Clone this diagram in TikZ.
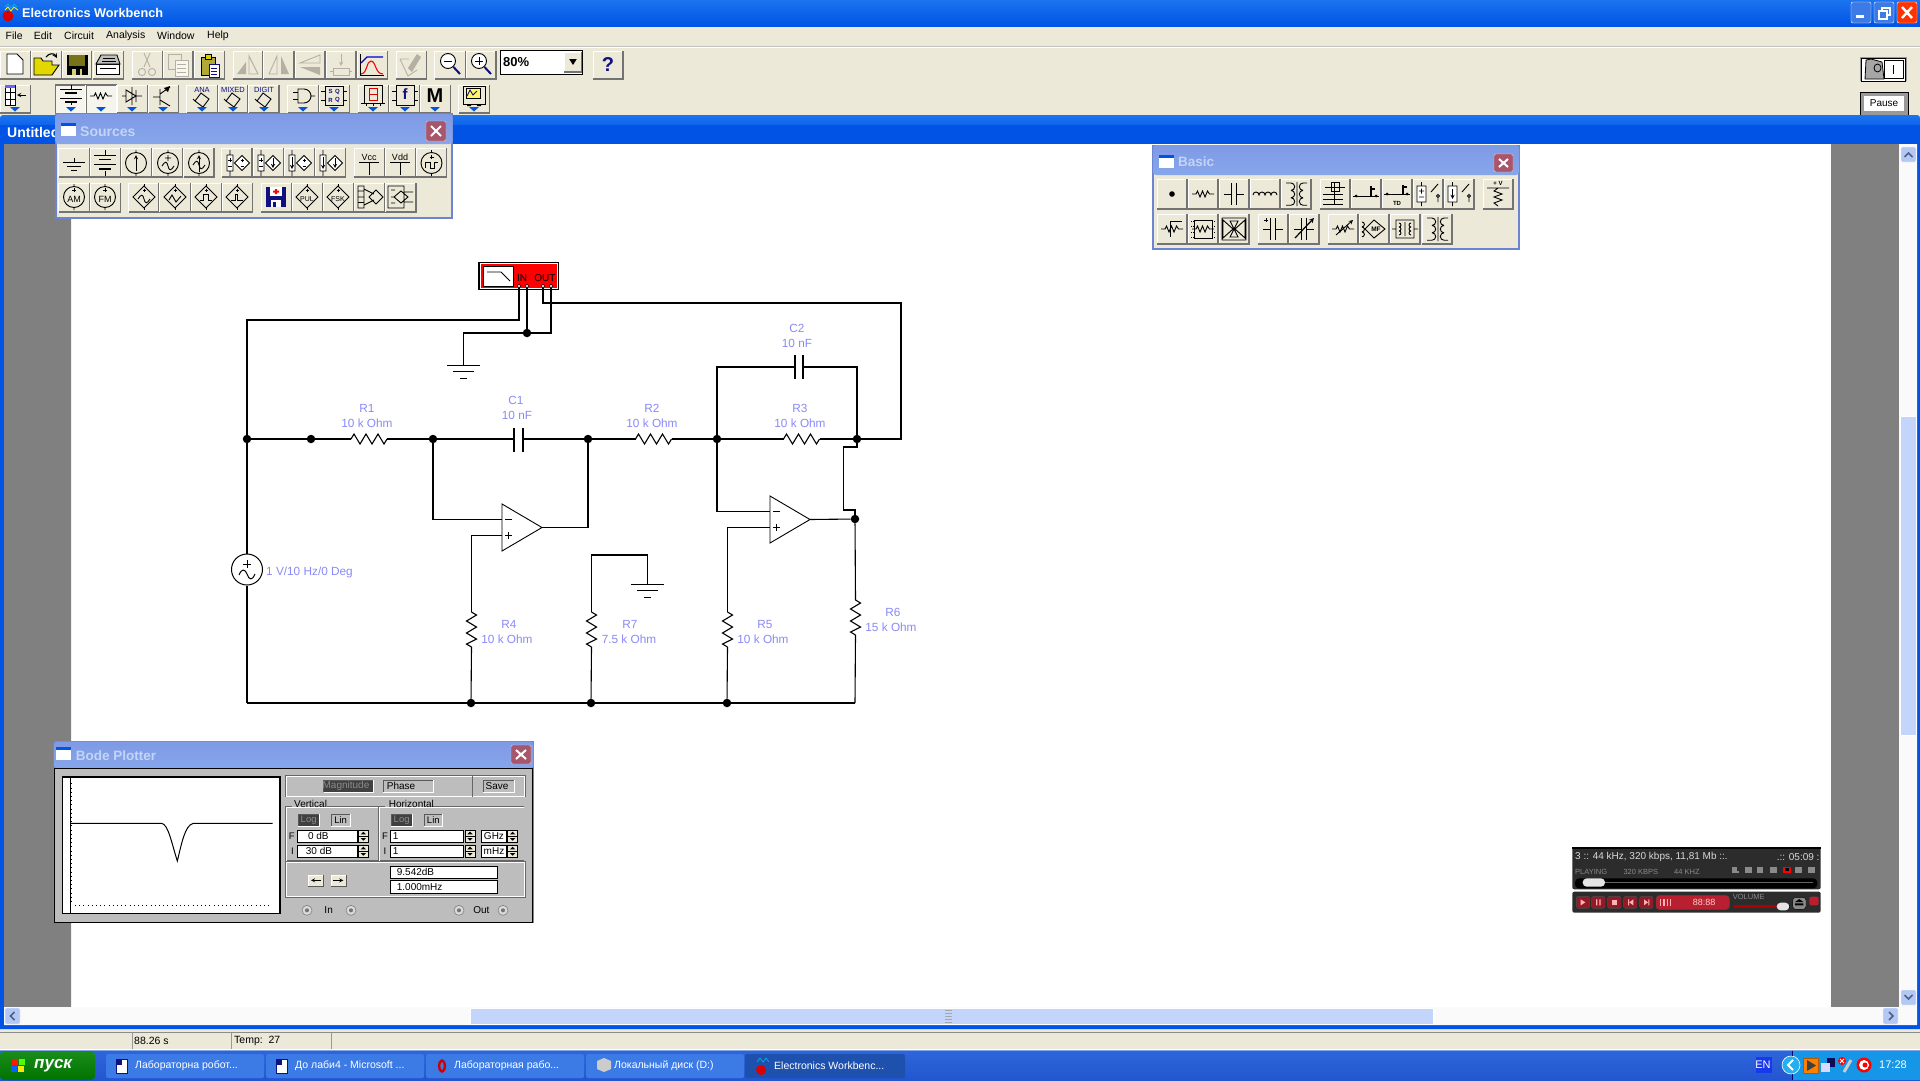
\documentclass[tikz,border=0pt]{standalone}
\usepackage{fontspec}
\setmainfont{Liberation Sans}
\definecolor{beige}{HTML}{ECE9D8}
\definecolor{xpa}{HTML}{1C74F0}
\definecolor{xpb}{HTML}{0053E4}
\definecolor{xpc}{HTML}{0A3FC8}
\definecolor{paleA}{HTML}{7F9AE6}
\definecolor{paleB}{HTML}{86A6EA}
\definecolor{paleE}{HTML}{6D84D2}
\definecolor{palet}{HTML}{C4D4F6}
\definecolor{closer}{HTML}{A8566C}
\definecolor{evblue}{HTML}{8A8AF6}
\definecolor{sbthumb}{HTML}{C3D5FA}
\definecolor{sbbtn}{HTML}{B4C8F6}
\definecolor{sbico}{HTML}{4D6185}
\definecolor{panel}{HTML}{BDBDBD}
\definecolor{tbA}{HTML}{2E66DA}
\definecolor{tbB}{HTML}{2256D0}
\definecolor{tbtn}{HTML}{3C7BE6}
\definecolor{tbact}{HTML}{1E50AE}
\definecolor{tray}{HTML}{1596E6}
\definecolor{wdark}{HTML}{2C2C2C}
\definecolor{wred}{HTML}{B82030}
\definecolor{wgrey}{HTML}{8A8A8A}
\definecolor{dis}{HTML}{B4B1A4}
\definecolor{navy}{HTML}{101080}
\tikzset{
  wire/.style={draw=black,line width=1.1pt},
  junction/.style={circle,fill=black,inner sep=0pt,minimum size=8.5pt},
  pinhole/.style={circle,draw=black,fill=white,line width=.5pt,inner sep=0pt,minimum size=3.4pt},
  lab/.style={text=evblue,inner sep=0pt,font=\fontsize{11.8}{12}\selectfont},
  icon/.style={line width=.9pt},
  thickbar/.style={line width=1.8pt},
}
\newcount\uicnt
\newcommand\uitext[6]{\global\advance\uicnt by 1
  \node[inner sep=0pt,anchor=#3,text=#5,font=\fontsize{#4}{#4}\selectfont] (ui\the\uicnt) at (#1,#2) {#6};}
\newcommand\uibtn[4]{%
  \fill[beige] (#1,#3) rectangle (#2,#4);
  \draw[white,line width=1pt] (#1,#4)--(#1,#3)--(#2,#3);
  \draw[black!55,line width=1.4pt] (#1,#4)--(#2,#4)--(#2,#3);}
\newcommand\uibtnin[4]{%
  \fill[white!55!beige] (#1,#3) rectangle (#2,#4);
  \draw[black!55,line width=1.2pt] (#1,#4)--(#1,#3)--(#2,#3);
  \draw[white,line width=1pt] (#1,#4)--(#2,#4)--(#2,#3);}
\newcommand\uiicon[3]{\begin{scope}[shift={(#1,#2)},icon]#3\end{scope}}
\newcommand\uisunken[5]{%
  \fill[#5] (#1,#3) rectangle (#2,#4);
  \draw[black!65,line width=.9pt] (#1,#4)--(#1,#3)--(#2,#3);
  \draw[white,line width=.9pt] (#1,#4)--(#2,#4)--(#2,#3);}
\newcommand\uiraised[5]{%
  \fill[#5] (#1,#3) rectangle (#2,#4);
  \draw[white,line width=.9pt] (#1,#4)--(#1,#3)--(#2,#3);
  \draw[black!65,line width=.9pt] (#1,#4)--(#2,#4)--(#2,#3);}
\newcommand\uiclose[4]{%
  \fill[closer,rounded corners=1.5pt,draw=white!70!closer] (#1,#3) rectangle (#2,#4);
  \draw[white,line width=2pt] ({#1+5},{#3+5})--({#2-5},{#4-5}) ({#1+5},{#4-5})--({#2-5},{#3+5});}
\newcommand\uiwinico[2]{%
  \fill[white] (#1,#2) rectangle ++(15,13);
  \fill[xpb] (#1,#2) rectangle ++(15,3);}
\newcommand\hres[3]{%
  \coordinate (#1-a) at (#2,#3); \coordinate (#1-b) at ({#2+36},#3);
  \draw[wire] (#1-a) -- ++(3,-5) -- ++(6,10) -- ++(6,-10) -- ++(6,10) -- ++(6,-10) -- ++(6,10) -- (#1-b);}
\newcommand\vres[3]{%
  \coordinate (#1-a) at (#2,#3); \coordinate (#1-b) at (#2,{#3+35});
  \draw[wire] (#1-a) -- ++(5,3) -- ++(-10,6) -- ++(10,6) -- ++(-10,6) -- ++(10,6) -- ++(-10,5) -- (#1-b);}
\newcommand\opampsym[3]{%
  \coordinate (#1-m) at (#2,{#3+15.5}); \coordinate (#1-p) at (#2,{#3+31.5}); \coordinate (#1-o) at ({#2+40},{#3+23.5});
  \draw[wire,line width=.9pt] (#2,#3) -- (#1-o) -- (#2,{#3+47}) -- cycle;
  \draw[line width=.9pt] ({#2+3},{#3+15.5}) -- ++(7,0) ({#2+3},{#3+31.5}) -- ++(7,0) ({#2+6.5},{#3+28}) -- ++(0,7);}
\newcommand\gndsym[3]{%
  \coordinate (#1) at (#2,#3);
  \draw[line width=1pt] ({#2-16.5},#3) -- ++(33,0) ({#2-10.5},{#3+6.5}) -- ++(21,0) ({#2-3.5},{#3+13}) -- ++(7,0);}
\newcommand\dropmark[2]{\fill[blue!60!cyan!85!black] ({#1-5},#2) -- ++(10,0) -- ++(-5,4.5) -- cycle;}
\newcommand\iccirc{\draw (0,0) circle (10.5) (0,-13)--(0,-10.5) (0,10.5)--(0,13);}
\newcommand\iczig{\draw (-11,0)--(-7,0)--(-5.5,-3)--(-3,3)--(-.5,-3)--(2,3)--(4.5,-3)--(6.5,0)--(11,0);}
\newcommand\icbatt{\draw (0,-13)--(0,-8) (-11,-8)--(11,-8) (-11,1)--(11,1) (0,8)--(0,13); \draw[thickbar] (-6,-3.5)--(6,-3.5) (-6,6)--(6,6);}
\newcommand\iccap{\draw (-10,0)--(-2.5,0) (2.5,0)--(10,0); \draw[thickbar] (-2.5,-11)--(-2.5,11) (2.5,-11)--(2.5,11);}
\newcommand\iccoil{\draw (-12,1) arc (180:360:3) arc (180:360:3) arc (180:360:3) arc (180:360:3);}
\newcommand\ictrans{\draw (-5,-11)--(-10,-11) (-5,-11) arc (-90:90:3.7) (-5,-3.6) arc (-90:90:3.7) (-5,3.8) arc (-90:90:3.7) (-5,11.2)--(-10,11.2) (7,-11)--(11,-11) (7,-11) arc (-90:-270:3.7) (7,-3.6) arc (-90:-270:3.7) (7,3.8) arc (-90:-270:3.7) (7,11.2)--(11,11.2) (1,-12)--(1,12);}
\begin{document}
\begin{tikzpicture}[x=1pt,y=-1pt]
\useasboundingbox (0,0) rectangle (1920,1080);
% base
\fill[beige] (0,0) rectangle (1920,1080);
\shade[top color=xpa,bottom color=xpb] (0,0) rectangle (1920,26);
\uitext{22}{13}{west}{12.7}{white}{\bfseries Electronics Workbench}
\fill[red!85!black] (8,16) circle (5.5);
\draw[cyan,line width=.8pt] (5,7) -- (8,4) -- (11,8) -- (14,4) -- (17,7);
\draw[yellow,line width=.8pt] (5,10) -- (8,7) -- (11,11) -- (14,7) -- (18,10);
% window buttons
\foreach \a/\b/\c in {1851/1871/tbtn,1874/1894/tbtn}{\fill[\c,draw=white,rounded corners=2pt] (\a,2) rectangle (\b,23);}
\fill[red!60!orange,draw=white,rounded corners=2pt] (1897,2) rectangle (1917,23);
\fill[white] (1856,15) rectangle (1864,18);
\draw[white,line width=1.2pt] (1879,11) rectangle (1887,19) (1882,11)--(1882,8)--(1890,8)--(1890,15)--(1887,15);
\draw[white,line width=2.4pt] (1902,7)--(1912,18) (1902,18)--(1912,7);
% menu
\foreach \x/\t in {5.5/File,33.7/Edit,64/Circuit,106/Analysis,157/Window,207/Help}{\uitext{\x}{35.5}{west}{10.5}{black}{\t}}
\draw[black!25,line width=1pt] (0,46)--(1920,46);
\draw[white,line width=1pt] (0,47.2)--(1920,47.2);
% toolbar row 1
\begin{scope}[x=.421pt]
\foreach \a/\b in {0/72,74/146,148/218,221/293,314/386,388/458,461/533,554/625,627/698,701/772,775/846,848/920,941/1013,1033/1105,1107/1178,1409/1480}{\uibtn{\a}{\b}{51}{79}}
\foreach \a/\b in {0/72,279/350,353/424,444/516,518/589,591/663,684/756,758/830,851/923,925/997,998/1070,1090/1163}{\uibtn{\a}{\b}{85}{113}}
\foreach \a/\b in {132/204,206/277}{\uibtnin{\a}{\b}{85}{113}}
\fill[white,draw=black,line width=.9pt] (1188,50) rectangle (1384,74);
\uibtn{1340}{1381}{52}{72}
\fill[black] (1352,59) -- (1370,59) -- (1361,65) -- cycle;
\end{scope}
\uitext{503}{62}{west}{13}{black}{\bfseries 80\%}
% row1 icons
\uiicon{15}{64}{\draw[fill=white] (-8,-10)--(2,-10)--(8,-4)--(8,10)--(-8,10)--cycle;}
\uiicon{46}{65}{\fill[yellow!75!olive,draw=black] (-12,-7)--(-5,-7)--(-3,-4)--(6,-4)--(6,0)--(13,0)--(6,10)--(-12,10)--cycle; \draw[black,line width=1.1pt,->,>=stealth] (0,-8)..controls(3,-12)and(8,-12)..(11,-7);}
\uiicon{77}{65}{\fill[black] (-10.5,-10) rectangle (10.5,10); \fill[olive!80!black] (-8,-10) rectangle (8,1); \fill[white!60!olive] (-5,4) rectangle (5,10);\fill[black] (-1,4) rectangle (3,10);}
\uiicon{108}{65}{\fill[white,draw=black] (-12,-1) rectangle (11,9); \fill[black!25,draw=black] (-7,-10)--(9,-10)--(12,-1)--(-12,-1)--cycle; \draw (-5,-7)--(7,-7) (-6,-4)--(8,-4) (-8,3)--(8,3);}
\uiicon{147}{65}{\draw[dis] (-3,-12)--(3,2) (3,-12)--(-3,2) (-5,7) circle (3.6) (5,7) circle (3.6);}
\uiicon{178}{65}{\draw[dis,fill=beige] (-10,-11) rectangle (3,4); \draw[dis,fill=white!60!beige] (-3,-5) rectangle (10,11); \draw[dis] (-1,-1)--(8,-1) (-1,3)--(8,3) (-1,7)--(8,7);}
\uiicon{209}{65}{\fill[olive!70,draw=black] (-8,-8) rectangle (6,10); \fill[yellow!70!olive,draw=black] (-4,-11) rectangle (2,-6); \fill[white,draw=navy] (0,-1) rectangle (10,12); \draw[navy] (2,3)--(8,3) (2,6)--(8,6) (2,9)--(8,9);}
\uiicon{248}{65}{\fill[dis] (-11,9)--(-2,9)--(-2,-3)--cycle; \draw[dis] (1,9)--(10,9)--(1,-9)--cycle;}
\uiicon{279}{65}{\draw[dis] (-2,9)--(-2,-9)--(-10,9)--cycle; \fill[dis] (2,9)--(2,-9)--(10,9)--cycle;}
\uiicon{310}{65}{\draw[dis] (-10,-2)--(10,-10)--(10,-2)--cycle; \fill[dis] (-10,2)--(10,2)--(10,10)--cycle;}
\uiicon{341}{65}{\draw[dis] (-8,3) rectangle (8,10) (-11,6.5)--(-8,6.5) (8,6.5)--(11,6.5); \draw[dis,->,>=stealth] (0,-11)--(0,1);}
\uiicon{372}{65}{\draw[black] (-12,-11)--(-12,10)--(12,10); \draw[blue!80!black,line width=1.1pt] (-11,-2)--(-5,-8)--(11,-8); \draw[red,line width=1.1pt] (-11,9) ..controls (-4,8) and (-6,-4) .. (-1,-4) ..controls (4,-4) and (3,9) .. (11,9);}
\uiicon{411}{65}{\fill[dis] (-3,3)--(6,-11)--(10,-8)--(1,7)--cycle; \draw[dis] (-11,-6)--(-2,-6) (-11,-6)--(-3,11)--(6,5);}
\uiicon{450}{65}{\draw[fill=white] (-2,-4) circle (7.5); \draw (-6,-4)--(2,-4); \draw[navy,line width=2pt] (3.5,2)--(10,9);}
\uiicon{481}{65}{\draw[fill=white] (-2,-4) circle (7.5); \draw (-6,-4)--(2,-4) (-2,-8)--(-2,0); \draw[navy,line width=2pt] (3.5,2)--(10,9);}
\uitext{608}{65}{center}{20}{navy}{\bfseries ?}
% row 2 icons
\uiicon{15}{96}{\draw[fill=white] (-10,-11) rectangle (0,9); \fill[blue!60] (-10,-11) rectangle (0,-8); \draw (-10,-4)--(0,-4) (-10,3)--(0,3) (-5,-8)--(-5,9); \draw[->,>=stealth] (11,-1)--(2,-1);}
\dropmark{15}{107}
\uiicon{71}{96}{\draw (0,-11)--(0,-7) (-11,-7)--(11,-7) (-11,2)--(11,2) (0,6)--(0,9); \draw[thickbar] (-6,-3)--(6,-3) (-6,6)--(6,6);}
\uiicon{101}{96}{\iczig}
\uiicon{132}{96}{\draw (0,-9)--(0,9) (-10,0)--(-6,0) (4,0)--(10,0) (-6,-6)--(-6,6)--(4,0)--cycle (4,-6)--(4,6);}
\uiicon{163}{96}{\draw (-10,1)--(-3,1) (-3,-7)--(-3,9) (-3,-2)--(7,-9) (-3,4)--(7,10); \fill (7,-10)--(1,-8)--(5,-4)--cycle;}
\foreach \x/\t in {202/ANA,233/MIXED,264/DIGIT}{\uitext{\x}{89.5}{center}{7.5}{navy}{\t}
  \uiicon{\x}{100}{\draw (-1,-7)--(7,-1)--(1,7)--(-7,1)--cycle (-7,1)--(-9,-1);}}
\uiicon{303}{96}{\draw (-5,-7)--(1,-7) arc (-90:90:7)--(-5,7)--cycle (-10,-3.5)--(-5,-3.5) (-10,3.5)--(-5,3.5) (8,0)--(12,0);}
\uiicon{334}{96}{\draw[black] (-9,-10) rectangle (9,9) (-13,-5)--(-9,-5) (-13,4)--(-9,4) (9,-5)--(13,-5) (9,4)--(13,4);}
\uitext{330.5}{91.5}{center}{6}{navy}{\bfseries S}\uitext{337.5}{91.5}{center}{6}{navy}{\bfseries Q}\uitext{330.5}{100}{center}{6}{navy}{\bfseries R}\uitext{337.5}{100}{center}{6}{navy}{\bfseries Q}
\uiicon{373}{94}{\fill[beige,draw=black] (-9,-9) rectangle (9,9); \draw[red!85!black,line width=1pt] (-4,-6) rectangle (4,0) (-4,0) rectangle (4,6);\draw (-12,9)--(12,9) (-7,9)--(-7,12) (0,9)--(0,12) (7,9)--(7,12);}
\uiicon{405}{96}{\draw (-9,-11) rectangle (9,9) (-13,-5)--(-9,-5) (-13,4)--(-9,4) (9,-5)--(13,-5) (9,4)--(13,4);}
\uitext{405}{94}{center}{15}{navy}{\bfseries f}
\uitext{435}{96}{center}{20}{black}{\bfseries M}
\uiicon{474}{96}{\fill[beige,draw=black] (-11,-10) rectangle (11,8); \fill[yellow!60,draw=black] (-8,-8) rectangle (6,2); \draw[navy] (-7,0)--(-4,-6)--(-1,-1)--(3,-5); \fill[black] (-7,8) rectangle (-3,10) (3,8) rectangle (7,10);}
\foreach \x in {71,101,132,163,202,233,264,303,334,373,405,435,474}{\dropmark{\x}{107}}
% right side toolbar
\fill[black!40] (1860,57) rectangle (1907,81);
\fill[white,draw=black,line width=1pt] (1861,58) rectangle (1905,81);
\fill[black!35,draw=black,line width=.8pt] (1871,59) -- (1882,62) -- (1884,79) -- (1865,79) -- (1866,60) -- cycle;
\draw[line width=.8pt] (1877.5,68) ellipse (3.5 and 4);
\draw[line width=1pt] (1893,65)--(1893,74) (1884,60) rectangle (1903,78);
\fill[black!40,draw=black,line width=1pt] (1860,92) rectangle (1908,115);
\fill[white] (1864,96) rectangle (1904,111);
\uitext{1884}{103}{center}{10}{black}{Pause}
% document window
\shade[top color=xpa,bottom color=xpb,rounded corners=3pt] (0,115) rectangle (1920,135);
\fill[xpb] (0,125) rectangle (1920,144);
\fill[xpb] (0,144) rectangle (4,1029) (1917,144) rectangle (1920,1029) (0,1025) rectangle (1920,1029);
\uitext{7}{132}{west}{14}{white}{\bfseries Untitled}
\fill[white] (71,144) rectangle (1831,1007);
\fill[black!50] (4,144) rectangle (71,1007) (1831,144) rectangle (1899,1007);
% scrollbars
\fill[black!2] (1899,144) rectangle (1917,1025) (4,1007) rectangle (1917,1025);
\fill[sbthumb,draw=white] (1900,416) rectangle (1916,735);
\fill[sbthumb,draw=white] (470,1008) rectangle (1433,1024);
\foreach \a/\b in {1901/147,1901/990}{\fill[sbbtn,draw=white,rounded corners=1pt] (\a,\b) rectangle ++(15,15);}
\foreach \a in {5,1883}{\fill[sbbtn,draw=white,rounded corners=1pt] (\a,1008) rectangle ++(15,16);}
\draw[sbico,line width=1.6pt] (1904.5,157)--(1908.5,153)--(1912.5,157) (1904.5,995)--(1908.5,999)--(1912.5,995) (14.5,1012)--(10.5,1016)--(14.5,1020) (1889,1012)--(1893,1016)--(1889,1020);
\foreach \y in {1010,1013,1016,1019,1022}{\draw[black!35,line width=.6pt] (945,\y)--(952,\y);}
% Sources window
\fill[beige,draw=paleE,line width=1.5pt] (56,114) rectangle (452,218);
\shade[top color=paleA,bottom color=paleB,rounded corners=3pt] (55.5,114) rectangle (452.5,144);
\uiwinico{61}{123}
\uitext{80}{132}{west}{14}{palet}{\bfseries Sources}
\uiclose{426}{446}{121}{141}
\begin{scope}[x=.421pt]
\foreach \a/\b in {140/212,214/286,288/360,362/434,436/508,527/599,601/673,675/747,749/821,841/913,915/987,989/1061}{\uibtn{\a}{\b}{148}{177}}
\foreach \a/\b in {140/212,214/286,306/378,380/452,454/526,528/600,620/692,694/766,768/840,842/914,916/988}{\uibtn{\a}{\b}{183}{212}}
\end{scope}
\uiicon{74}{163}{\draw (-11,-1)--(11,-1) (-7,3)--(7,3) (-3,7)--(3,7) (0,-5)--(0,-1);}
\uiicon{105}{163}{\icbatt}
\uiicon{136}{163}{\iccirc \draw[->,>=stealth] (0,8)--(0,-8);}
\uiicon{168}{163}{\iccirc \draw (-3,-5)--(3,-5) (0,-8)--(0,-2) (-6,3)..controls(-3,-2)and(-1,-2)..(0,3)..controls(1,8)and(3,8)..(6,3);}
\uiicon{199}{163}{\iccirc \draw[->,>=stealth] (0,9)--(0,-8); \draw (-6,2)..controls(-3,-3)and(-1,-3)..(0,2)..controls(1,7)and(3,7)..(6,2);}
\foreach \x/\c in {237/1,268/2,299/3,330/4}{
  \uiicon{\x}{163}{\draw[fill=white] (-10,-8) rectangle (-4,8) (-7,-13)--(-7,-8) (-7,8)--(-7,13) (5,-7.5)--(12.5,0)--(5,7.5)--(-2.5,0)--cycle;}}
\uiicon{237}{163}{\draw (-9,-3)--(-5,-3) (-7,-5)--(-7,-1) (-9,3)--(-5,3) (3.5,-3)--(6.5,-3) (5,-4.5)--(5,-1.5) (3.5,3)--(6.5,3);}
\uiicon{268}{163}{\draw (-9,-3)--(-5,-3) (-7,-5)--(-7,-1) (-9,3)--(-5,3); \draw[->,>=stealth] (5,-5)--(5,5);}
\uiicon{299}{163}{\draw[->,>=stealth] (-7,-6)--(-7,6); \draw (3.5,-3)--(6.5,-3) (5,-4.5)--(5,-1.5) (3.5,3)--(6.5,3);}
\uiicon{330}{163}{\draw[->,>=stealth] (-7,-6)--(-7,6); \draw[->,>=stealth] (5,-5)--(5,5);}
\foreach \x/\t in {369/Vcc,400/Vdd}{\uitext{\x}{157}{center}{9}{black}{\t}\uiicon{\x}{163}{\draw (-10,-1)--(10,-1) (0,-1)--(0,12);}}
\uiicon{431.5}{163}{\iccirc \draw (-6,5)--(-6,-1)--(-1,-1)--(-1,5)--(3,5)--(3,-1)--(6,-1)  (-2,-6)--(2,-6) (0,-8)--(0,-4);}
\foreach \x/\t in {74/AM,105/FM}{\uiicon{\x}{197}{\iccirc \draw (-2,-7)--(2,-7) (0,-9)--(0,-5);}\uitext{\x}{199}{center}{9}{black}{\t}}
\foreach \x in {144,175,206,237,307,338}{\uiicon{\x}{197}{\draw (0,-13)--(0,13); \fill[beige,draw=black] (0,-11)--(11,0)--(0,11)--(-11,0)--cycle; \draw (-1.5,-7)--(1.5,-7) (0,-8.5)--(0,-5.5);}}
\uiicon{144}{197}{\draw (-6,2)..controls(-3,-3)and(-1,-3)..(0,2)..controls(1,7)and(3,7)..(6,2);}
\uiicon{175}{197}{\draw (-6,3)--(-3,-2)--(1,5)--(6,-1);}
\uiicon{206}{197}{\draw (-6,3)--(-3,3)--(-3,-3)--(2,-3)--(2,3)--(6,3);}
\uiicon{237}{197}{\draw (-6,3)--(-2,3)--(-2,-3)--(0,-3)--(0,3)--(6,3);}
\uitext{307}{199}{center}{7}{black}{PUL}\uitext{338}{199}{center}{7}{black}{FSK}
\uiicon{276}{197}{\fill[navy] (-10,-10) rectangle (10,10); \fill[white] (-6,-10) rectangle (6,-1); \fill[red] (-1,-8) rectangle (1,-3) (-3,-6.5) rectangle (3,-4.5); \fill[white] (-5,3) rectangle (5,10); \fill[navy] (-3,5) rectangle (0,10);}
\uiicon{370}{197}{\draw (-12,-11) rectangle (-6,11) (-12,-6)--(-6,-6) (-12,0)--(-6,0) (-12,5.5)--(-6,5.5) (-6,-8)--(4,-3) (-6,8)--(4,3) (6,-7)--(13,0)--(6,7)--(-1,0)--cycle;}
\uiicon{400}{197}{\draw (-12,-11) rectangle (4,11) (4,-5)--(13,-5) (4,5)--(13,5) (-9,-7)--(-5,-7) (-9,0)--(-5,0) (-9,6)--(-5,6) (1,-6)--(8,0)--(1,6)--(-6,0)--cycle;}
% Basic window
\fill[beige,draw=paleE,line width=1.5pt] (1153,146) rectangle (1519,249);
\shade[top color=paleA,bottom color=paleB,rounded corners=3pt] (1153,145) rectangle (1519,175);
\uiwinico{1159}{155}
\uitext{1178}{162}{west}{13.5}{palet}{\bfseries Basic}
\uiclose{1494}{1513}{154}{172}
\foreach \x in {1172,1203,1234,1265,1296,1335,1366,1397,1428,1459,1498}{\uibtn{\x-15}{\x+15}{179}{209}}
\foreach \x in {1172,1203,1234,1273,1304,1343,1374,1405,1437}{\uibtn{\x-15}{\x+15}{214}{244}}
\fill[black] (1172,194) circle (2.8);
\uiicon{1203}{194}{\iczig}
\uiicon{1234}{194}{\iccap}
\uiicon{1265}{194}{\iccoil}
\uiicon{1296}{194}{\ictrans}
\uiicon{1335}{194}{\draw (-4,-12) rectangle (4,-3) (-10,-7)--(10,-7) (-12,0)--(8,0) (-12,5)--(8,5) (-12,10)--(8,10) (-1,-12)--(-1,10);}
\uiicon{1366}{194}{\fill (-10,2) circle (1.5) (10,2) circle (1.5); \draw (-13,2)--(13,2); \draw[thickbar] (5,-5)--(9,-5) (5,-8)--(5,2);}
\uiicon{1397}{194}{\fill (-10,0) circle (1.5) (10,0) circle (1.5); \draw (-13,0)--(13,0); \draw[thickbar] (6,-7)--(10,-7) (6,-9)--(6,0);}
\uitext{1397}{203}{center}{6}{black}{\bfseries TD}
\uiicon{1428}{194}{\draw[fill=white] (-11,-8) rectangle (-2,8) (-6.5,-12)--(-6.5,-8) (-6.5,8)--(-6.5,12) (-9,-3)--(-4,-3) (-6.5,-5.5)--(-6.5,-.5) (-9,3)--(-4,3) (3,-2)--(10,-10) (10,2) circle (1.5) (10,4)--(10,8);}
\uiicon{1459}{194}{\draw[fill=white] (-11,-8) rectangle (-2,8) (-6.5,-12)--(-6.5,-8) (-6.5,8)--(-6.5,12) (3,-2)--(10,-10) (10,2) circle (1.5) (10,4)--(10,8); \draw[->,>=stealth] (-6.5,-5)--(-6.5,5);}
\uiicon{1498}{194}{\draw (-11,-6)--(11,-6) (0,-6)--(-4,-3)--(4,0)--(-4,3)--(4,6)--(-4,9)--(0,12);}
\uitext{1498}{183}{center}{6}{black}{\bfseries + V}
\uiicon{1172}{229}{\iczig \draw (-2,8)--(-2,-8) (-2,-8)--(10,-8);}
\uiicon{1203}{229}{\draw[fill=beige] (-9,-9) rectangle (9,9); \iczig \draw[dash pattern=on 1pt off 1pt] (-12,-8)--(-9,-8) (-12,-3)--(-9,-3) (-12,3)--(-9,3) (-12,8)--(-9,8) (9,-8)--(12,-8) (9,-3)--(12,-3) (9,3)--(12,3) (9,8)--(12,8);}
\uiicon{1234}{229}{\draw (-12,-11)--(12,-11) (-12,11)--(12,11) (-12,-11)--(-12,11) (12,-11)--(12,11) (-11,-9)--(-1,0)--(-11,9)--cycle (11,-9)--(1,0)--(11,9)--cycle (-4,-8)--(4,-8)--(0,0)--cycle (-4,8)--(4,8)--(0,0)--cycle;}
\uiicon{1273}{229}{\iccap \draw (-9,-9)--(-5,-9) (-7,-11)--(-7,-7);}
\uiicon{1304}{229}{\iccap \draw[->,>=stealth,line width=1.2pt] (-9,9)--(10,-11);}
\uiicon{1343}{229}{\iczig \draw[->,>=stealth] (-7,6)--(10,-9);}
\uiicon{1374}{229}{\draw (-9,0)--(0,-9)--(11,0)--(0,9)--cycle (-12,-7) arc (-90:90:2.4) (-12,-2) arc (-90:90:2.4) (-12,3) arc (-90:90:2.4);}
\uitext{1376}{229}{center}{6.5}{black}{\bfseries MF}
\uiicon{1405}{229}{\draw (-9,-9) rectangle (9,9) (-13,0)--(-9,0) (9,0)--(13,0) (0,-7)--(0,7) (-6,-6) arc (-90:90:2) (-6,-2) arc (-90:90:2) (-6,2) arc (-90:90:2) (6,-6) arc (-90:-270:2) (6,-2) arc (-90:-270:2) (6,2) arc (-90:-270:2);}
\uiicon{1437}{229}{\ictrans}
% ---- circuit ----
\node[draw=black,fill=red,line width=1.2pt,minimum width=79pt,minimum height=26pt,inner sep=0pt] (bode) at (518.5,276) {};
\draw[white,line width=.8pt] (480.5,263.5) rectangle (557.5,288.5);
\fill[white,draw=black,line width=1pt] (483,266) rectangle (513,286);
\draw[line width=.9pt] (487,272) -- (501,272) -- (510,281);
\node[inner sep=0pt,font=\fontsize{10}{10}\selectfont] (bodeIn) at (522,278.5) {IN};
\node[inner sep=0pt,font=\fontsize{10}{10}\selectfont] (bodeOut) at (545,278.5) {OUT};
\node[pinhole] (p1) at (519,286) {};
\node[pinhole] (p2) at (527,286) {};
\node[pinhole] (p3) at (543,286) {};
\node[pinhole] (p4) at (551,286) {};
\node[junction] (nT) at (527,333) {};
\node[junction] (nA) at (247,439) {};
\node[junction] (nB) at (311,439) {};
\node[junction] (nC) at (433,439) {};
\node[junction] (nD) at (588,439) {};
\node[junction] (nE) at (717,439) {};
\node[junction] (nF) at (857,439) {};
\node[junction] (nG) at (855,519) {};
\node[junction] (nJ1) at (471,703) {};
\node[junction] (nJ2) at (591,703) {};
\node[junction] (nJ3) at (727,703) {};
\coordinate (w1) at (247,320);
\coordinate (w2) at (901,303);
\coordinate (w3) at (901,439);
\coordinate (bl) at (247,703);
\coordinate (br) at (855,703);
\gndsym{g1}{463.5}{365}
\gndsym{g2}{647.5}{584}
\hres{R1}{351}{439}
\hres{R2}{635.5}{439}
\hres{R3}{783.5}{439}
\vres{R4}{471.5}{612}
\vres{R7}{591.5}{612}
\vres{R5}{727.5}{612}
\vres{R6}{855.5}{600}
\opampsym{U1}{502}{504}
\opampsym{U2}{770}{496}
% bode wires
\draw[wire] (p1) |- (w1) -- (nA);
\draw[wire] (p2) -- (nT);
\draw[wire] (p4) |- (nT);
\draw[wire] (nT) -| (g1);
\draw[wire] (p3) |- (w2) -- (w3) -- (nF);
% main line
\draw[wire] (nA) -- (nB);
\draw[wire] (nB) -- (R1-a);
\draw[wire] (R1-b) -- (nC);
\coordinate (c1a) at (514,439); \coordinate (c1b) at (523,439);
\draw[wire] (nC) -- (c1a) (c1b) -- (nD);
\draw[wire] (c1a) ++(0,-11) -- ++(0,24) (c1b) ++(0,-11) -- ++(0,24);
\draw[wire] (nD) -- (R2-a);
\draw[wire] (R2-b) -- (nE);
\draw[wire] (nE) -- (R3-a);
\draw[wire] (R3-b) -- (nF);
% C2
\coordinate (c2a) at (795,367); \coordinate (c2b) at (803,367);
\draw[wire] (nE) |- (c2a);
\draw[wire] (nF) |- (c2b);
\draw[wire] (c2a) ++(0,-12) -- ++(0,24) (c2b) ++(0,-12) -- ++(0,24);
% feedback
\coordinate (fb1) at (843.5,447);
\coordinate (fb2) at (843.5,510);
\coordinate (fb3) at (855,510);
\draw[wire] (nF) |- (fb1) -- (fb2) -- (fb3) -- (nG);
% op amps
\draw[wire] (nC) |- (U1-m);
\draw[wire] (U1-o) -| (nD);
\draw[wire] (U1-p) -| (R4-a);
\draw[wire] (nE) |- (U2-m);
\draw[wire] (U2-p) -| (R5-a);
\draw[wire] (U2-o) -- (nG);
\draw[wire] (nG) -- (R6-a);
% lower
\draw[wire] (R4-b) -- (nJ1);
\draw[wire] (R7-b) -- (nJ2);
\draw[wire] (R5-b) -- (nJ3);
\draw[wire] (R6-b) -- (br);
\coordinate (r7t) at (591.5,555);
\draw[wire] (R7-a) -- (r7t) -| (g2);
% source
\node[circle,draw=black,line width=1pt,minimum size=31pt,inner sep=0pt] (vs) at (247,569.5) {};
\draw[line width=1pt] (243,564)--(251,564) (247,560)--(247,568);
\draw[line width=1pt] (239,575) .. controls (242,568) and (245,569) .. (247,574) .. controls (249,580) and (252,581) .. (255,574);
\draw[wire] (nA) -- (vs);
\draw[wire] (vs) -- (bl);
\draw[wire] (bl) -- (nJ1) -- (nJ2) -- (nJ3) -- (br);
% labels
\node[lab] (lR1) at (367,408) {R1};
\node[lab] (vR1) at (367,423) {10 k Ohm};
\node[lab] (lC1) at (516,400) {C1};
\node[lab] (vC1) at (517,415) {10 nF};
\node[lab] (lR2) at (652,408) {R2};
\node[lab] (vR2) at (652,423) {10 k Ohm};
\node[lab] (lR3) at (800,408) {R3};
\node[lab] (vR3) at (800,423) {10 k Ohm};
\node[lab] (lC2) at (797,328) {C2};
\node[lab] (vC2) at (797,343) {10 nF};
\node[lab] (lR4) at (509,624) {R4};
\node[lab] (vR4) at (507,639) {10 k Ohm};
\node[lab] (lR7) at (630,624) {R7};
\node[lab] (vR7) at (629,639) {7.5 k Ohm};
\node[lab] (lR5) at (765,624) {R5};
\node[lab] (vR5) at (763,639) {10 k Ohm};
\node[lab] (lR6) at (893,612) {R6};
\node[lab] (vR6) at (891,627) {15 k Ohm};
\node[lab,anchor=west] (lV) at (266,572) {1 V/10 Hz/0 Deg};
% ---- Bode plotter window ----
\begin{scope}[shift={(40,730)},x=.33333pt,y=-.33333pt]
\fill[paleE] (40,33) rectangle (1481,580);
\shade[top color=paleA,bottom color=paleB,rounded corners=3pt] (42,35) rectangle (1480,115);
\uitext{107}{76}{west}{13.5}{palet}{\bfseries Bode Plotter}
\fill[panel,draw=black,line width=.9pt] (44,115) rectangle (1478,578);
\fill[white,draw=black,line width=1.1pt] (68,141) rectangle (720,551);
\draw[line width=1pt] (91,141)--(91,551);
\draw[line width=1pt] (91,280)--(365,280) .. controls (385,283) and (395,340) .. (412,393) .. controls (425,340) and (435,285) .. (460,280) -- (698,280);
\draw[line width=1pt,dash pattern=on 1pt off 3.2pt] (93,160)--(93,525) (105,525)--(697,525);
% groups
\draw[black!60,line width=.8pt] (737,136) rectangle (1455,200);
\draw[white,line width=.8pt] (739,138) rectangle (1453,198);
\draw[black!60,line width=.8pt] (1298,136)--(1298,200);
\uisunken{851}{1000}{150}{187}{black!75}
\uitext{918}{168}{center}{10}{black!45}{Magnitude}
\uisunken{1030}{1180}{150}{187}{panel}
\uitext{1040}{168}{west}{10}{black}{Phase}
\uisunken{1330}{1423}{150}{187}{panel}
\uitext{1371}{168}{center}{10}{black}{Save}
\draw[black!60,line width=.8pt] (737,392)--(737,228)--(755,228) (860,228)--(1035,228) (1175,228)--(1452,228) (737,392)--(1452,392) (1016,228)--(1016,392);
\draw[white,line width=.8pt] (739,392)--(739,232)--(1014,232) (1018,392)--(1018,232)--(1452,232);
\uitext{762}{222}{west}{10}{black}{Vertical}
\uitext{1046}{222}{west}{10}{black}{Horizontal}
\foreach \x in {775,1054}{\uisunken{\x}{\x+63}{252}{290}{black!75}\uitext{\x+31}{270}{center}{9.5}{black!45}{Log}}
\foreach \x in {874,1152}{\uisunken{\x}{\x+56}{252}{290}{panel}\uitext{\x+28}{270}{center}{9.5}{black}{Lin}}
\foreach \x/\y/\t in {755/319/F,757/364/I,1035/319/F,1035/364/I}{\uitext{\x}{\y}{center}{9.5}{black}{\t}}
\foreach \y in {300,345}{
  \fill[white,draw=black,line width=.8pt] (772,\y) rectangle (952,\y+37);
  \fill[white,draw=black,line width=.8pt] (1051,\y) rectangle (1270,\y+37);
  \foreach \s in {955,1275,1403}{
    \fill[beige,draw=black,line width=.6pt] (\s,\y) rectangle (\s+30,\y+37);
    \draw[line width=.6pt] (\s,\y+18)--(\s+30,\y+18);
    \fill[black] (\s+7,\y+13)--(\s+23,\y+13)--(\s+15,\y+5)--cycle (\s+7,\y+24)--(\s+23,\y+24)--(\s+15,\y+32)--cycle;
  }
  \fill[white,draw=black,line width=.8pt] (1325,\y) rectangle (1400,\y+37);
}
\uitext{835}{319}{center}{10}{black}{0 dB}
\uitext{837}{364}{center}{10}{black}{30 dB}
\uitext{1058}{319}{west}{10}{black}{1}
\uitext{1058}{364}{west}{10}{black}{1}
\uitext{1362}{319}{center}{10}{black}{GHz}
\uitext{1362}{364}{center}{10}{black}{mHz}
\draw[black!60,line width=.8pt] (737,395) rectangle (1455,502);
\draw[white,line width=.8pt] (739,397) rectangle (1453,500);
\uiraised{805}{850}{435}{468}{beige}
\uiraised{873}{918}{435}{468}{beige}
\draw[line width=.8pt,->,>=stealth] (843,451)--(813,451);
\draw[line width=.8pt,->,>=stealth] (880,451)--(910,451);
\foreach \y in {408,451}{\fill[white,draw=black,line width=.8pt] (1051,\y) rectangle (1373,\y+38);}
\uitext{1070}{427}{west}{10}{black}{9.542dB}
\uitext{1070}{470}{west}{10}{black}{1.000mHz}
\foreach \x in {801,933,1257,1389}{
  \draw[fill=black!15,draw=black!50,line width=.6pt] (\x,541) circle (5pt);
  \fill[black!55] (\x,541) circle (2pt);}
\uitext{866}{540}{center}{10}{black}{In}
\uitext{1324}{540}{center}{10}{black}{Out}
\end{scope}
\uiclose{511}{531}{745}{764}
\uiwinico{56}{747}
% ---- media player ----
\begin{scope}[shift={(1560,840)},x=.33333pt,y=-.33333pt]
\fill[wdark,rounded corners=2pt] (37,22) rectangle (782,148);
\fill[black] (37,22) rectangle (782,26);
\uitext{45}{50}{west}{10}{white!85!black}{3 :: 44 kHz, 320 kbps, 11,81 Mb ::.}
\uitext{650}{50}{west}{10}{white!85!black}{.:: 05:09 :}
\uitext{45}{95}{west}{7.5}{wgrey}{PLAYING}
\uitext{190}{95}{west}{7.5}{wgrey}{320 KBPS}
\uitext{342}{95}{west}{7.5}{wgrey}{44 KHZ}
\foreach \x in {527,565,600,640,715,755}{\fill[wgrey] (\x-10,80) rectangle (\x+10,98);}
\fill[wdark] (532,80) rectangle (536,92);
\fill[red] (668,80) rectangle (692,98);\fill[black] (674,85) rectangle (686,93);
\fill[black,rounded corners=4pt] (45,115) rectangle (772,145);
\draw[black!60] (130,128)--(760,128);
\fill[white!90!black,rounded corners=4pt] (68,115) rectangle (135,140);
\fill[wdark,rounded corners=2pt] (37,155) rectangle (782,218);
\foreach \x in {69,115,163,211,259}{\fill[wred!80!black,draw=black!70,rounded corners=2pt] (\x-20,169) rectangle (\x+20,205);}
\fill[white!70!red] (62,178)--(76,187)--(62,196)--cycle;
\fill[white!70!red] (108,178) rectangle (112,196) (118,178) rectangle (122,196);
\fill[white!70!red] (156,179) rectangle (170,195);
\fill[white!70!red] (204,178) rectangle (207,196) (220,178)--(208,187)--(220,196)--cycle;
\fill[white!70!red] (252,178)--(264,187)--(252,196)--cycle (265,178) rectangle (268,196);
\fill[wred,draw=black!70,rounded corners=3pt] (288,167) rectangle (508,208);
\uitext{398}{188}{west}{9}{white!80!red}{88:88}
\foreach \x in {300,310,320,330}{\fill[white!70!red] (\x,178) rectangle (\x+4,197);}
\uitext{518}{172}{west}{7.5}{wgrey}{VOLUME}
\fill[red!70!black] (522,194) rectangle (655,204);
\fill[black] (655,194) rectangle (690,204);
\fill[white!90!black,rounded corners=4pt] (650,188) rectangle (688,211);
\fill[wgrey,draw=black,rounded corners=3pt] (698,172) rectangle (738,208);
\fill[black] (705,186)--(730,186)--(718,177)--cycle (705,190) rectangle (730,196);
\fill[wred,rounded corners=2pt] (748,170) rectangle (776,196);
\end{scope}
% ---- status bar ----
\draw[black!45,line width=1pt] (0,1032)--(1920,1032);
\draw[white,line width=.8pt] (0,1049)--(1920,1049);
\foreach \x in {132,231,331}{\draw[black!40,line width=1pt] (\x,1033)--(\x,1049);}
\uitext{134}{1041}{west}{10.5}{black}{88.26 s}
\uitext{234}{1041}{west}{10.5}{black}{Temp:\ \ 27}
% ---- taskbar ----
\shade[top color=tbA,bottom color=tbB] (0,1050) rectangle (1920,1080);
\draw[white!40!tbA,line width=1pt] (0,1050.5)--(1920,1050.5);
\shade[top color=green!50!black!90!white,bottom color=green!45!black,rounded corners=4pt] (0,1051) rectangle (95,1080);
\uitext{34}{1066}{west}{17}{white}{\bfseries\itshape пуск}
\fill[red!80!orange] (12,1059) rectangle (18,1065);
\fill[green!70!yellow] (19,1059) rectangle (25,1065);
\fill[blue!60!cyan] (11,1066) rectangle (17,1072);
\fill[yellow!90!orange] (18,1066) rectangle (24,1072);
\foreach \a/\b in {106/264,266/424,426/584,586/744}{\fill[tbtn,rounded corners=2pt] (\a,1054) rectangle (\b,1078);}
\fill[tbact,rounded corners=2pt] (745,1054) rectangle (905,1078);
\uitext{135}{1066}{west}{10.5}{white}{Лабораторна робот{.}{.}{.}}
\uitext{295}{1066}{west}{10.5}{white}{До лаби4 - Microsoft {.}{.}{.}}
\uitext{454}{1066}{west}{10.5}{white}{Лабораторная рабо{.}{.}{.}}
\uitext{614}{1066}{west}{10.5}{white}{Локальный диск (D:)}
\uitext{774}{1066}{west}{10.5}{white}{Electronics Workbenc{.}{.}{.}}
\foreach \x in {116,276}{\fill[white,draw=navy,line width=.6pt] (\x,1059) rectangle ++(11,14); \fill[navy] (\x+1,1060) rectangle ++(5,5);}
\draw[red!80!black,line width=2.4pt] (442,1066) ellipse (3 and 5.5);
\fill[white!80!black] (597,1061)--(604,1058)--(611,1061)--(611,1069)--(604,1072)--(597,1069)--cycle;
\fill[red!85!black] (761,1070) circle (5);
\draw[cyan,line width=.7pt] (757,1062)--(760,1058)--(763,1062)--(766,1058)--(769,1062);
% tray
\fill[tray] (1792,1051) rectangle (1920,1080);
\draw[black!60!blue,line width=1pt] (1792,1051)--(1792,1080);
\fill[blue!45!tbA] (1756,1057) rectangle (1772,1073);
\uitext{1763}{1065}{center}{11}{white}{EN}
\fill[tbtn!60!cyan,draw=white,line width=.6pt] (1791,1065) circle (9);
\draw[white,line width=2pt] (1793,1060)--(1788,1065)--(1793,1070);
\fill[orange,draw=orange!70!black] (1803,1058) rectangle (1818,1073);
\fill[black!75] (1807,1060)--(1816,1065.5)--(1807,1071)--cycle;
\fill[navy!70!black] (1827,1058) rectangle (1835,1067);
\fill[white!85!blue] (1821,1063) rectangle (1830,1072);
\draw[white!80!black,line width=3pt] (1844,1072)--(1851,1060);
\fill[red] (1842,1061) circle (4);
\draw[white,line width=1pt] (1840,1059)--(1844,1063) (1844,1059)--(1840,1063);
\fill[red] (1864,1065) circle (7.5);
\fill[white] (1864,1065) circle (5);
\fill[red] (1865,1065) circle (2.5);
\uitext{1879}{1065}{west}{11}{white}{17:28}
\end{tikzpicture}
\end{document}
